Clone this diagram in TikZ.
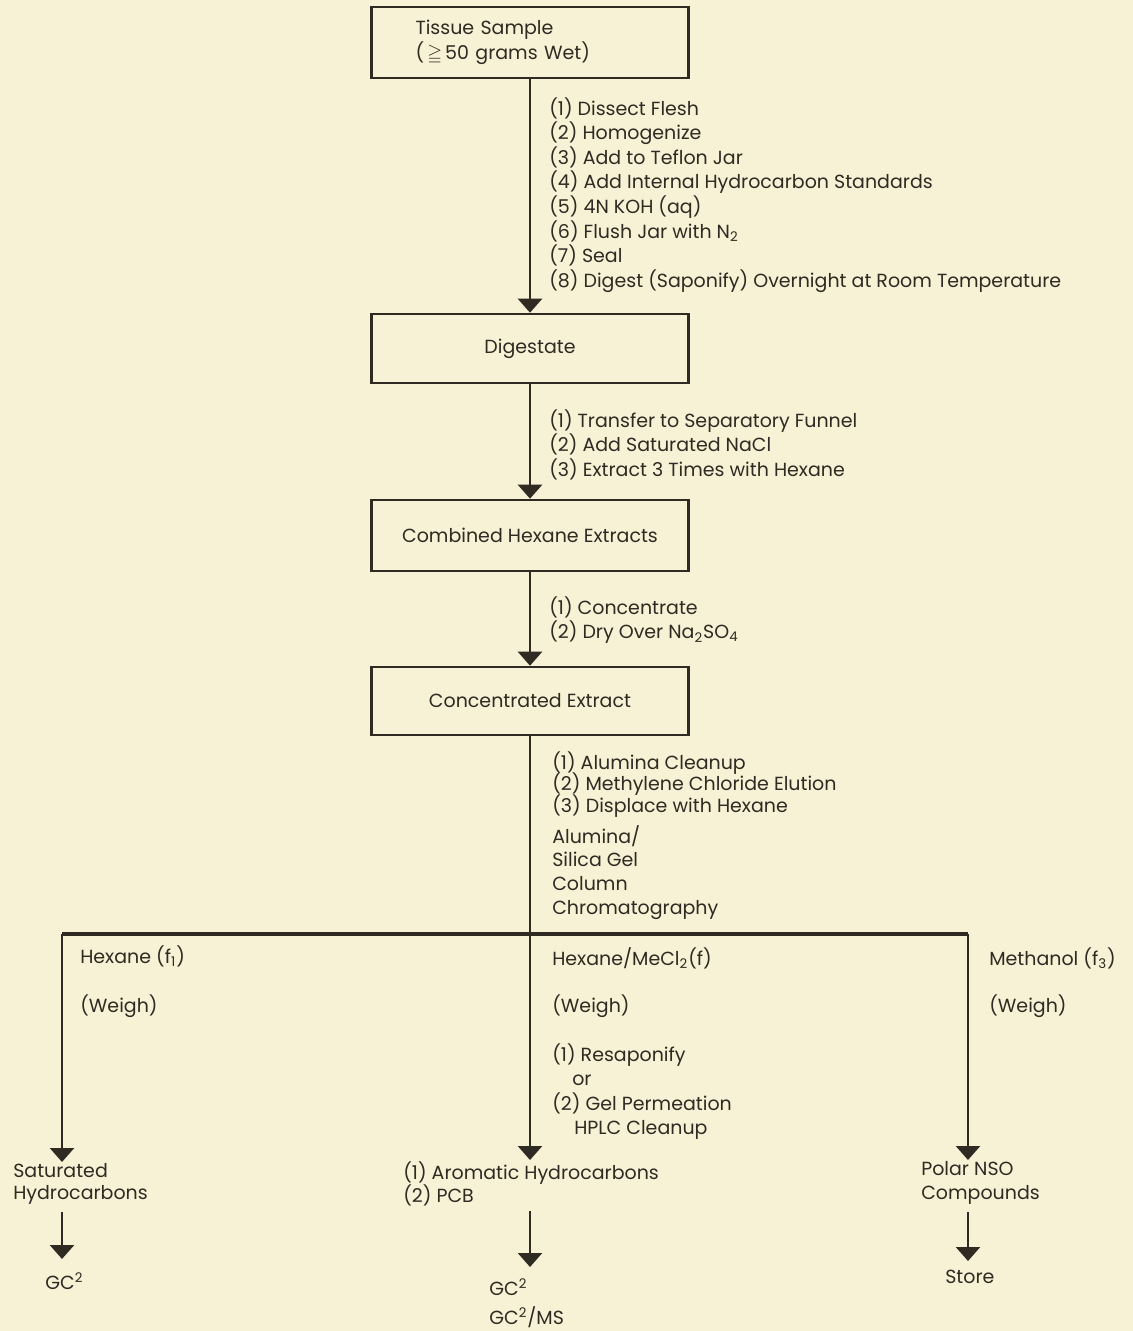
\documentclass[tikz,border=0pt]{standalone}
\usepackage{amssymb}
\usepackage{fontspec}
\setmainfont{Poppins}
\usetikzlibrary{arrows.meta}
\definecolor{paper}{HTML}{F7F1D5}
\definecolor{ink}{HTML}{2F2A22}
\lineskiplimit=-20pt

\begin{document}
\begin{tikzpicture}[x=0.5pt,y=-0.5pt,font=\fontsize{9.5}{12.3}\selectfont,>={Triangle[width=12pt,length=7pt]},line width=1.3pt,color=ink,
box/.style={draw,minimum width=158.5pt,minimum height=35pt,inner sep=0pt,align=center},
note/.style={anchor=north west,align=left,inner sep=0pt},
lbl/.style={anchor=base west,inner sep=0pt}]
\fill[paper](0,0) rectangle (1133,1331);
\useasboundingbox(0,0) rectangle (1133,1331);
\node[box,align=left,text width=114.5pt,minimum height=35.5pt](tissue) at (530,42.5){Tissue Sample\\(\,$\geqq$\,50 grams Wet)};
\node[box,minimum height=34.5pt](digest) at (530,348.5){Digestate};
\node[box,minimum height=35.5pt](hexext) at (530,535.5){Combined Hexane Extracts};
\node[box,minimum height=34pt](concext) at (530,701){Concentrated Extract};
\node[note](s1) at (548,96){(1) Dissect Flesh\\(2) Homogenize\\(3) Add to Teflon Jar\\(4) Add Internal Hydrocarbon Standards\\(5) 4N KOH (aq)\\(6) Flush Jar with N\textsubscript{2}\\(7) Seal\\(8) Digest (Saponify) Overnight at Room Temperature};
\node[note](s2) at (548,408){(1) Transfer to Separatory Funnel\\(2) Add Saturated NaCl\\(3) Extract 3 Times with Hexane};
\node[note](s3) at (548,595){(1) Concentrate\\(2) Dry Over Na\textsubscript{2}SO\textsubscript{4}};
\node[note,font=\fontsize{9.5}{10.8}\selectfont](s4) at (551,750){(1) Alumina Cleanup\\(2) Methylene Chloride Elution\\(3) Displace with Hexane};
\node[note,font=\fontsize{9.5}{11.8}\selectfont](col) at (551,824){Alumina/\\Silica Gel\\Column\\Chromatography};
\coordinate(lft) at (62,934);\coordinate(split) at (530,934);\coordinate(rgt) at (968,934);
\node[lbl](f1) at (79,963){Hexane (f\textsubscript{1})};
\node[lbl](w1) at (79,1012){(Weigh)};
\node[lbl](f2) at (551,965){Hexane/MeCl\textsubscript{2}(f)};
\node[lbl](w2) at (551,1012){(Weigh)};
\node[note](resap) at (551,1042){(1) Resaponify\\\hspace*{10pt}or\\(2) Gel Permeation\\\hspace*{11pt}HPLC Cleanup};
\node[lbl](f3) at (988,965){Methanol (f\textsubscript{3})};
\node[lbl](w3) at (988,1012){(Weigh)};
\node[note,font=\fontsize{9.5}{11}\selectfont](sat) at (12,1162){Saturated\\Hydrocarbons};
\node[note,font=\fontsize{9.5}{11.5}\selectfont](arom) at (402,1160){(1) Aromatic Hydrocarbons\\(2) PCB};
\node[note,font=\fontsize{9.5}{12}\selectfont](polar) at (920,1160){Polar NSO\\Compounds};
\node[note](gcl) at (44,1271){GC\textsuperscript{2}};
\node[note,font=\fontsize{9.5}{14.5}\selectfont](gcm) at (488,1277){GC\textsuperscript{2}\\GC\textsuperscript{2}/MS};
\node[note](store) at (944,1269){Store};
\draw[->](tissue)--(digest);\draw[->](digest)--(hexext);\draw[->](hexext)--(concext);
\draw(concext)--(split);\draw[line width=1.6pt](lft)--(rgt);
\draw[->](lft)--(lft|-sat.north);\draw[->](split)--(split|-arom.north);\draw[->](rgt)--(rgt|-polar.north);
\draw[->,shorten >=6pt]([yshift=-3pt]lft|-sat.south)--(lft|-gcl.north);
\draw[->,shorten >=5pt]([yshift=-2pt]split|-arom.south)--(split|-gcm.north);
\draw[->,shorten >=4pt]([yshift=-3pt]rgt|-polar.south)--(rgt|-store.north);
\end{tikzpicture}
\end{document}
